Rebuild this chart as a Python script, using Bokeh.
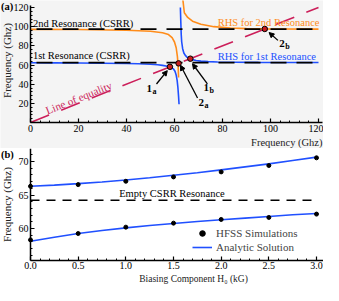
import math
from bokeh.plotting import figure
from bokeh.layouts import column
from bokeh.models import (Range1d, FixedTicker, Label, Arrow, NormalHead, Legend, AllLabels,
                          LegendItem, PrintfTickFormatter, ColumnDataSource)
from bokeh.embed import file_html
from bokeh.resources import INLINE

FONT = "Liberation Serif"
ORANGE = "#ff8c1a"
BLUE = "#2050ff"
CRIMSON = "#cc1f5a"

# ---------------- data: panel (a) ----------------
equality_f = [0, 120]
csrr_res1 = 62.5
csrr_res2 = 97.4

rhs1_left_f = [0, 10, 20, 30, 40, 45, 50, 53, 55, 57, 58.4, 59.5, 60.2, 60.7, 61.1, 61.4, 61.7, 61.9]
rhs1_left_v = [62.3, 62.2, 62.1, 61.9, 61.6, 61.3, 60.8, 60.2, 59.6, 58.7, 57.8, 56.0, 53.5, 49.5, 44.0, 37.0, 27.0, 19.0]
rhs1_right_f = [62.45, 62.6, 62.8, 63.0, 63.4, 63.9, 64.5, 65.3, 66.2, 67.5, 69, 71, 74, 78, 85, 95, 108, 120]
rhs1_right_v = [120, 107, 92, 84, 77, 72.5, 70, 68, 66.8, 65.6, 64.7, 64.0, 63.5, 63.2, 62.9, 62.7, 62.6, 62.6]
rhs2_left_f = [0, 20, 40, 50, 55, 57.5, 59, 60, 60.7, 61.2, 61.5, 61.7]
rhs2_left_v = [97.2, 97.0, 96.3, 95.2, 93.6, 91.8, 88.5, 84.0, 78.0, 69.0, 60.0, 47.0]
rhs2_right_f = [63.4, 64.1, 65.5, 67.5, 71, 76.4, 83.3, 90, 97, 105, 120]
rhs2_right_v = [130, 114.5, 109.6, 105.7, 102.5, 100.0, 98.6, 98.0, 97.7, 97.5, 97.4]

cross_f = [58.1, 61.7, 66.6, 97.6]          # 1a, 2a, 1b, 2b (on line of equality)
cross_main = ["1", "2", "1", "2"]
cross_sub = ["a", "a", "b", "b"]
label_f = [50.6, 72.3, 74.4, 105.9]
label_v = [35.1, 20.5, 36.6, 82.9]
arrow_from_f = [52.5, 69.6, 73.7, 103.1]
arrow_from_v = [40.2, 25.6, 40.2, 85.7]
arrow_to_f = [57.0, 62.5, 67.5, 99.4]
arrow_to_v = [54.1, 59.7, 61.3, 93.9]

a_xticks = [0, 20, 40, 60, 80, 100, 120]
a_yticks = [20, 40, 60, 80, 100, 120]

# ---------------- data: panel (b) ----------------
h_field = [0.0, 0.5, 1.0, 1.5, 2.0, 2.5, 3.0]
hfss_upper = [66.3, 66.55, 67.05, 67.7, 68.45, 69.4, 70.55]
hfss_lower = [58.3, 59.25, 60.2, 60.8, 61.35, 61.65, 62.15]
h_line = [0.0, 0.25, 0.5, 0.75, 1.0, 1.25, 1.5, 1.75, 2.0, 2.25, 2.5, 2.75, 3.0]
analytic_upper = [66.3, 66.48, 66.7, 66.95, 67.25, 67.58, 67.95, 68.33, 68.75, 69.2, 69.65, 70.15, 70.65]
analytic_lower = [58.1, 58.7, 59.25, 59.7, 60.1, 60.45, 60.75, 61.05, 61.3, 61.55, 61.8, 62.05, 62.25]
empty_csrr = 64.2
b_xticks = [0.0, 0.5, 1.0, 1.5, 2.0, 2.5, 3.0]
b_yticks = [60, 65, 70]

# ---------------- layout constants (canvas pixels) ----------------
W = 323
H1, H2 = 148, 137
AX_LEFT = 30                    # canvas x of the y axes


def style_axes(p):
    for ax in (p.xaxis[0], p.yaxis[0]):
        ax.axis_line_width = 1.5
        ax.axis_line_color = "black"
        ax.major_tick_in = 4
        ax.major_tick_out = 0
        ax.minor_tick_in = 2
        ax.minor_tick_out = 0
        ax.major_tick_line_width = 1.2
        ax.minor_tick_line_width = 1
        ax.major_label_text_font = FONT
        ax.major_label_text_font_size = "10px"
        ax.major_label_text_color = "black"
        ax.major_label_standoff = 2
        ax.major_label_policy = AllLabels()
    p.xgrid.visible = False
    p.ygrid.visible = False
    p.outline_line_color = None


def add_label(p, x, y, text, size="10.5px", color="black", align="left",
              baseline="middle", angle=0.0, style="normal", x_offset=0, y_offset=0):
    p.add_layout(Label(x=x, y=y, text=text, text_font=FONT, text_font_size=size,
                       text_color=color, text_align=align, text_baseline=baseline,
                       angle=angle, text_font_style=style,
                       x_offset=x_offset, y_offset=y_offset))


# ================= panel (a) =================
sx1 = (318 - AX_LEFT) / 120.0           # px per GHz (x)
y0_1, y120_1 = 122, 7                   # canvas y of 0 and 120 GHz
sy1 = (y0_1 - y120_1) / 120.0
XA = (-AX_LEFT / sx1, (W - AX_LEFT) / sx1)
YA = (-(H1 - y0_1) / sy1, y0_1 / sy1)

p1 = figure(width=W, height=H1, x_range=Range1d(*XA), y_range=Range1d(*YA),
            output_backend="svg", toolbar_location=None, min_border=0)
p1.background_fill_color = "#f4f4f4"
p1.border_fill_color = "#f4f4f4"
style_axes(p1)
p1.xaxis.fixed_location = 0
p1.yaxis.fixed_location = 0
p1.xaxis.bounds = (0, 121.6)
p1.yaxis.bounds = (0, 122.5)
p1.xaxis.ticker = FixedTicker(ticks=a_xticks, minor_ticks=[v for v in range(0, 121, 4) if v % 20])
p1.yaxis.ticker = FixedTicker(ticks=a_yticks, minor_ticks=[v for v in range(0, 121, 4) if v % 20])


def a_px(cx, cy):
    """canvas pixel -> data coordinates of panel (a), for annotation placement"""
    return XA[0] + cx / sx1, YA[1] - cy / sy1


# line of equality
p1.line(equality_f, equality_f, line_color=CRIMSON, line_width=1.6, line_dash="20 13")
# RHS curves
p1.line(rhs2_left_f, rhs2_left_v, line_color=ORANGE, line_width=1.6)
p1.line(rhs2_right_f, rhs2_right_v, line_color=ORANGE, line_width=1.6)
p1.line(rhs1_left_f, rhs1_left_v, line_color=BLUE, line_width=1.6)
p1.line(rhs1_right_f, rhs1_right_v, line_color=BLUE, line_width=1.6)
# CSRR resonances
p1.line(equality_f, [csrr_res2, csrr_res2], line_color="black", line_width=1.6,
        line_dash="16 10", line_dash_offset=20)
p1.line(equality_f, [csrr_res1, csrr_res1], line_color="black", line_width=1.6,
        line_dash="16 10", line_dash_offset=20)
# intersections
p1.scatter(cross_f, cross_f, size=5.5, fill_color="#c81e1e", line_color="black", line_width=1)

arrow_src = ColumnDataSource(dict(x0=arrow_from_f, y0=arrow_from_v, x1=arrow_to_f, y1=arrow_to_v))
p1.add_layout(Arrow(source=arrow_src, x_start="x0", y_start="y0", x_end="x1", y_end="y1",
                    line_color="black", line_width=1.3,
                    end=NormalHead(size=5, fill_color="black", line_color="black", line_width=1)))

for fx, fy, m, s in zip(label_f, label_v, cross_main, cross_sub):
    add_label(p1, fx, fy, m, size="11px", align="right", style="bold")
    add_label(p1, fx, fy, s, size="8px", align="left", style="bold", x_offset=0.5, y_offset=-3)

add_label(p1, 1.0, 103, "2nd Resonance (CSRR)")
add_label(p1, 1.0, 69.8, "1st Resonance (CSRR)")
add_label(p1, 78.0, 104.2, "RHS for 2nd Resonance", color=ORANGE)
add_label(p1, 78.0, 68.5, "RHS for 1st Resonance", color=BLUE)
ang = math.atan(sy1 / sx1)
add_label(p1, 20.1, 25.9, "Line of equality", size="11px", color=CRIMSON, align="center", angle=ang)

x, y = a_px(0.5, 0.5)
add_label(p1, x, y, "(a)", size="10.5px", style="bold", baseline="top")
x, y = a_px(6.5, 60)
add_label(p1, x, y, "Frequency (Ghz)", size="11px", color="#222222", align="center", angle=math.pi / 2)
x, y = a_px(322, 136)
add_label(p1, x, y, "Frequency (Ghz)", size="10.5px", color="#222222", align="right", baseline="top")

# ================= panel (b) =================
sx2 = (316 - AX_LEFT) / 3.0             # px per kG
sy2 = 6.7                               # px per GHz
y60_2 = 80                              # canvas y of 60 GHz
XB = (-AX_LEFT / sx2, (W - AX_LEFT) / sx2)
YB = (60 - (H2 - y60_2) / sy2, 60 + y60_2 / sy2)

p2 = figure(width=W, height=H2, x_range=Range1d(*XB), y_range=Range1d(*YB),
            output_backend="svg", toolbar_location=None, min_border=0)
style_axes(p2)
p2.xaxis.fixed_location = 55.2
p2.yaxis.fixed_location = 0
p2.xaxis.bounds = (0, 3.07)
p2.yaxis.bounds = (55.2, YB[1] - 0.05)
p2.xaxis[0].major_label_standoff = 1
p2.xaxis.ticker = FixedTicker(ticks=b_xticks, minor_ticks=[i / 10 for i in range(0, 31) if i % 5])
p2.yaxis.ticker = FixedTicker(ticks=b_yticks, minor_ticks=[v for v in range(56, 72) if v % 5])
p2.xaxis.formatter = PrintfTickFormatter(format="%.1f")


def b_px(cx, cy):
    return XB[0] + cx / sx2, YB[1] - cy / sy2


p2.line([0, 3.0], [empty_csrr, empty_csrr], line_color="black", line_width=1.5, line_dash="9 7")
r_line_u = p2.line(h_line, analytic_upper, line_color=BLUE, line_width=1.6)
p2.line(h_line, analytic_lower, line_color=BLUE, line_width=1.6)
r_dot_u = p2.scatter(h_field, hfss_upper, size=4, fill_color="black", line_color="black")
p2.scatter(h_field, hfss_lower, size=4, fill_color="black", line_color="black")

add_label(p2, 0.93, 65.15, "Empty CSRR Resonance")

legend = Legend(items=[LegendItem(label="HFSS Simulations", renderers=[r_dot_u]),
                       LegendItem(label="Analytic Solution", renderers=[r_line_u])],
                location=(192, 31), background_fill_alpha=0, border_line_color=None,
                padding=0, margin=0, spacing=0, glyph_width=20, glyph_height=14,
                label_height=14, label_standoff=4, label_text_font=FONT,
                label_text_font_size="11px")
p2.add_layout(legend)

x, y = b_px(0.5, 0.5)
add_label(p2, x, y, "(b)", size="10.5px", style="bold", baseline="top")
x, y = b_px(6.5, 56)
add_label(p2, x, y, "Frequency (Ghz)", size="11px", color="#222222", align="center", angle=math.pi / 2)
x, y = b_px(0, 125.5)
add_label(p2, 1.71, y, "Biasing Component H\u2080 (kG)", size="9.5px", color="#222222",
          align="center", baseline="top")

layout = column(p1, p2, spacing=0)
open("out.html", "w").write(file_html(layout, INLINE))
